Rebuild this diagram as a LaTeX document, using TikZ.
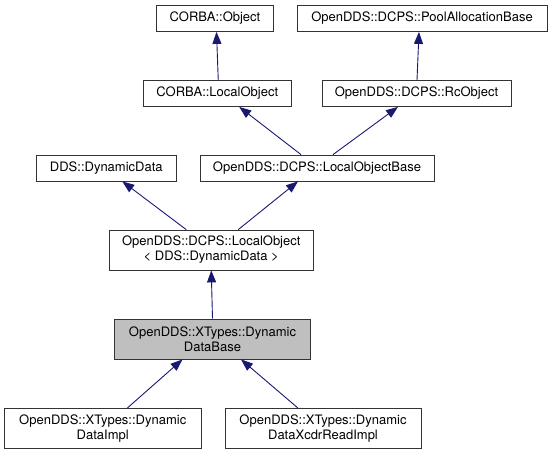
\documentclass[tikz,border=0pt]{standalone}
\usepackage{fontspec}
\setmainfont{TeX Gyre Heros}
\usepackage{xcolor}
\usetikzlibrary{arrows.meta}
\definecolor{midnight}{HTML}{191970}

\begin{document}
\begin{tikzpicture}[x=1pt,y=-1pt,
  cls/.style={draw=black!80,line width=0.8pt,fill=white,inner sep=0pt,minimum height=26pt,align=center,font=\fontsize{13}{15}\selectfont},
  cls2/.style={cls,minimum height=40pt},
  inh/.style={draw=midnight,line width=0.9pt,-{Triangle[length=12pt,width=9pt]}}]

  \useasboundingbox (0,0) rectangle (551,455);

  \node[cls,minimum width=117pt] (obj) at (215,18.5) {CORBA::Object};
  \node[cls,minimum width=250pt] (pool) at (422,18.5) {OpenDDS::DCPS::PoolAllocationBase};
  \node[cls,minimum width=147.5pt] (lobj) at (217.25,93.5) {CORBA::LocalObject};
  \node[cls,minimum width=189pt] (rc) at (416.5,93.5) {OpenDDS::DCPS::RcObject};
  \node[cls,minimum width=139.3pt] (dd) at (106.3,168) {DDS::DynamicData};
  \node[cls,minimum width=234pt] (lob) at (317,168) {OpenDDS::DCPS::LocalObjectBase};
  \node[cls2,minimum width=204.5pt] (ltmpl) at (211.25,250) {OpenDDS::DCPS::LocalObject\\< DDS::DynamicData >};
  \node[cls2,minimum width=196pt,fill=gray!50] (base) at (212.5,339) {OpenDDS::XTypes::Dynamic\\DataBase};
  \node[cls2,minimum width=196.5pt] (impl) at (102.75,428.5) {OpenDDS::XTypes::Dynamic\\DataImpl};
  \node[cls2,minimum width=196pt] (xcdr) at (323,428.5) {OpenDDS::XTypes::Dynamic\\DataXcdrReadImpl};

  \path ([xshift=1pt]lobj.north) edge[inh] ([xshift=1.5pt]obj.south);
  \path ([xshift=0.5pt]rc.north) edge[inh] ([xshift=-3pt]pool.south);
  \path ([xshift=-16pt]lob.north) edge[inh] ([xshift=22pt]lobj.south);
  \path ([xshift=16pt]lob.north) edge[inh] ([xshift=-18.5pt]rc.south);
  \path ([xshift=-25pt]ltmpl.north) edge[inh] ([xshift=16pt]dd.south);
  \path ([xshift=27pt]ltmpl.north) edge[inh] ([xshift=-19pt]lob.south);
  \path (base.north) edge[inh] (ltmpl.south);
  \path ([xshift=24.5pt]impl.north) edge[inh] ([xshift=-30pt]base.south);
  \path ([xshift=-25pt]xcdr.north) edge[inh] ([xshift=28.5pt]base.south);

\end{tikzpicture}
\end{document}
